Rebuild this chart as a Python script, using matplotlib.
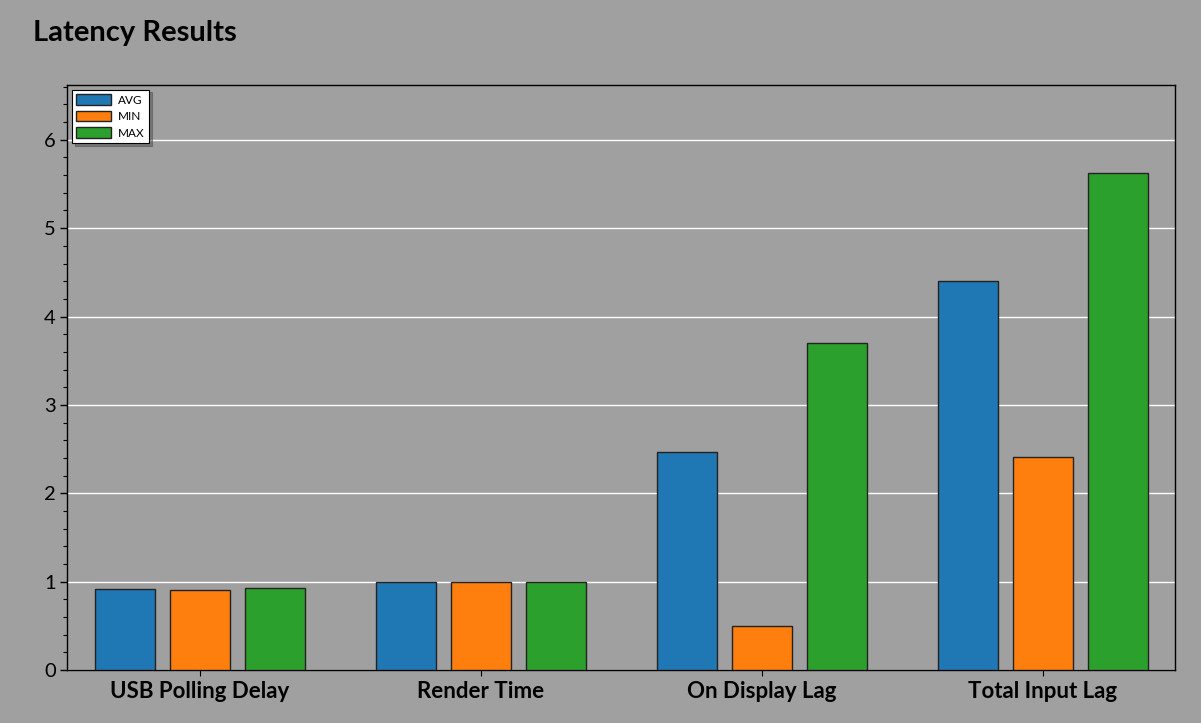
import numpy as np
import matplotlib.pyplot as plt
from matplotlib.ticker import MultipleLocator

# Chart data
categories = ['USB Polling Delay', 'Render Time', 'On Display Lag', 'Total Input Lag']
avg_vals = [0.92, 1.0, 2.47, 4.40]
min_vals = [0.91, 1.0, 0.50, 2.41]
max_vals = [0.93, 1.0, 3.70, 5.62]
series_names = ['AVG', 'MIN', 'MAX']
colors = ['#1f77b4', '#ff7f0e', '#2ca02c']

bg = '#a0a0a0'
plt.rcParams['font.family'] = ['Lato', 'DejaVu Sans']

fig = plt.figure(figsize=(12.01, 7.23), dpi=100, facecolor=bg)
ax = fig.add_axes([67 / 1201, 1 - 670 / 723, (1175 - 67) / 1201, (670 - 85) / 723])
ax.set_facecolor(bg)

x = np.arange(len(categories))
width = 0.2135
offset = 0.267
for i, (vals, name, c) in enumerate(zip([avg_vals, min_vals, max_vals], series_names, colors)):
    ax.bar(x + (i - 1) * offset, vals, width, color=c, edgecolor='#222222',
           linewidth=1.0, label=name, zorder=3)

ax.set_xlim(-0.473, 3.47)
ax.set_ylim(0, 6.62)
ax.yaxis.set_major_locator(MultipleLocator(1))
ax.yaxis.set_minor_locator(MultipleLocator(0.2))
ax.grid(axis='y', which='major', color='white', linewidth=1.0, zorder=0)
ax.set_xticks(x)
ax.set_xticklabels(categories, fontsize=16, fontweight='bold')
ax.tick_params(axis='y', labelsize=14.5, length=5, width=1, color='black', pad=3)
ax.tick_params(axis='y', which='minor', length=3, width=0.8)
ax.tick_params(axis='x', length=4, pad=4)
for s in ax.spines.values():
    s.set_color('black')
    s.set_linewidth(1.0)

leg = ax.legend(loc='upper left', fontsize=8.5, frameon=True, fancybox=False,
                shadow=True, edgecolor='black', facecolor='white', framealpha=1,
                handlelength=2.9, handleheight=0.95, borderpad=0.4,
                labelspacing=0.45, borderaxespad=0.4, handletextpad=0.6)
leg.get_frame().set_linewidth(0.8)

fig.text(33 / 1201, 1 - 33 / 723, 'Latency Results', fontsize=21, fontweight='bold',
         va='center', ha='left')

fig.savefig('out.png', dpi=100, facecolor=bg)
